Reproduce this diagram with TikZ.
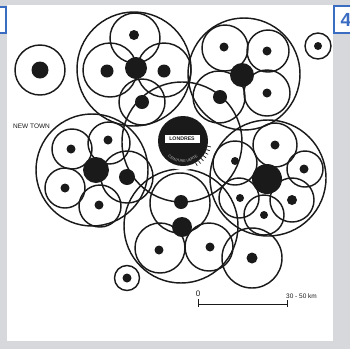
\documentclass[tikz,border=0pt]{standalone}
\usepackage{fontspec}
\setsansfont{Liberation Sans}
\usetikzlibrary{decorations.text,calc}
\definecolor{ink}{HTML}{1A1A1A}
\definecolor{framegray}{HTML}{D7D8DC}
\definecolor{tabblue}{HTML}{3A6CC2}
\begin{document}
\begin{tikzpicture}[x=1pt,y=-1pt,
  ring/.style={draw=ink, line width=1.45pt},
  dot/.style={fill=ink},
  lbl/.style={font=\sffamily\fontsize{6.5}{7}\selectfont, text=ink, inner sep=0pt}]
\useasboundingbox (0,0) rectangle (350,349);
% frame
\fill[framegray] (0,0) rectangle (350,349);
\fill[white] (7,5) rectangle (333,341);
\begin{scope}
\clip (0,0) rectangle (350,349);
\draw[tabblue, line width=1.4pt, fill=white] (-12,7) rectangle (6,33);
\draw[tabblue, line width=1.4pt, fill=white] (334,6) rectangle (356,33);
\node[font=\sffamily\bfseries\fontsize{19}{20}\selectfont, text=tabblue, inner sep=0pt] (tab) at (346,20) {4};
\end{scope}

% isolated new towns
\draw[ring] (40,70) circle[radius=25];  \fill[dot] (40,70) circle[radius=8.5];
\draw[ring] (318,46) circle[radius=13]; \fill[dot] (318,46) circle[radius=4];
\draw[ring] (127,278) circle[radius=12.5]; \fill[dot] (127,278) circle[radius=4.5];

% ring around London
\draw[ring] (182,142) circle[radius=60];

% top cluster
\draw[ring] (134,69) circle[radius=57];
\draw[ring] (135,38) circle[radius=25];
\draw[ring] (110,70) circle[radius=27];
\draw[ring] (164,70) circle[radius=27];
\draw[ring] (142,102) circle[radius=23];
\fill[dot] (136,68) circle[radius=11];
\fill[dot] (107,71) circle[radius=6.5];
\fill[dot] (164,71) circle[radius=6.5];
\fill[dot] (134,35) circle[radius=5];
\fill[dot] (142,102) circle[radius=7];

% top-right cluster
\draw[ring] (244,74) circle[radius=56];
\draw[ring] (225,48) circle[radius=23];
\draw[ring] (268,51) circle[radius=21];
\draw[ring] (267,93) circle[radius=23];
\draw[ring] (219,97) circle[radius=26];
\fill[dot] (242,75) circle[radius=12];
\fill[dot] (224,47) circle[radius=4.5];
\fill[dot] (267,51) circle[radius=4.5];
\fill[dot] (267,93) circle[radius=4.5];
\fill[dot] (220,97) circle[radius=7];

% right cluster
\draw[ring] (268,178) circle[radius=58];
\draw[ring] (275,145) circle[radius=22];
\draw[ring] (305,169) circle[radius=18];
\draw[ring] (292,200) circle[radius=22];
\draw[ring] (264,215) circle[radius=20];
\draw[ring] (239,198) circle[radius=20];
\draw[ring] (235,163) circle[radius=22];
\fill[dot] (267,179) circle[radius=15];
\fill[dot] (275,145) circle[radius=4.5];
\fill[dot] (304,169) circle[radius=4.5];
\fill[dot] (292,200) circle[radius=5];
\fill[dot] (264,215) circle[radius=4];
\fill[dot] (240,198) circle[radius=4];
\fill[dot] (235,161) circle[radius=4];

% bottom cluster
\draw[ring] (181,226) circle[radius=57];
\draw[ring] (180,203) circle[radius=30];
\draw[ring] (160,248) circle[radius=25];
\draw[ring] (209,247) circle[radius=24];
\draw[ring] (252,258) circle[radius=30];
\fill[dot] (182,227) circle[radius=10];
\fill[dot] (181,202) circle[radius=7];
\fill[dot] (159,250) circle[radius=4.5];
\fill[dot] (210,247) circle[radius=4.5];
\fill[dot] (252,258) circle[radius=5.5];

% left cluster
\draw[ring] (92,170) circle[radius=56];
\draw[ring] (72,149) circle[radius=20];
\draw[ring] (109,143) circle[radius=21];
\draw[ring] (65,188) circle[radius=20];
\draw[ring] (100,206) circle[radius=21];
\draw[ring] (127,177) circle[radius=26];
\fill[dot] (96,170) circle[radius=13];
\fill[dot] (127,177) circle[radius=8];
\fill[dot] (71,149) circle[radius=4.5];
\fill[dot] (108,140) circle[radius=4.5];
\fill[dot] (65,188) circle[radius=4.5];
\fill[dot] (99,205) circle[radius=4.5];

% London with green belt
\fill[white] (183,141) circle[radius=29];
\fill[ink] (183,141) circle[radius=25];
\foreach \a in {12,20,...,64} {
  \draw[ink, line width=0.7pt] ($(183,141)+(\a:25)$) -- ($(183,141)+(\a:28.5)$);
}
\path[decorate, decoration={text along path, text align=center,
  text={|\sffamily\fontsize{3.8}{4}\selectfont\color{black!25}|CEINTURE VERTE}}]
  (183,141) ++(152:21.5) arc[start angle=152, end angle=28, radius=21.5];
\node[draw=ink, line width=0.9pt, fill=white, minimum width=36pt, minimum height=9.5pt,
  inner sep=0pt, font=\sffamily\bfseries\fontsize{5.2}{5.2}\selectfont, text=ink] (london) at (182,139) {LONDRES};

% labels
\node[lbl, anchor=west] (newtown) at (13,126) {NEW TOWN};

% scale bar
\coordinate (s0) at (198,304);
\coordinate (s1) at (287,304);
\draw[ink, line width=0.8pt] (s0) -- (s1);
\draw[ink, line width=0.8pt] (198,299) -- (198,307);
\draw[ink, line width=0.8pt] (287,300) -- (287,307);
\node[lbl, font=\sffamily\fontsize{8}{8}\selectfont] (zero) at (198,294) {0};
\node[lbl, anchor=west, font=\sffamily\fontsize{6.5}{7}\selectfont] (km) at (286,296) {30 - 50 km};
\end{tikzpicture}
\end{document}
